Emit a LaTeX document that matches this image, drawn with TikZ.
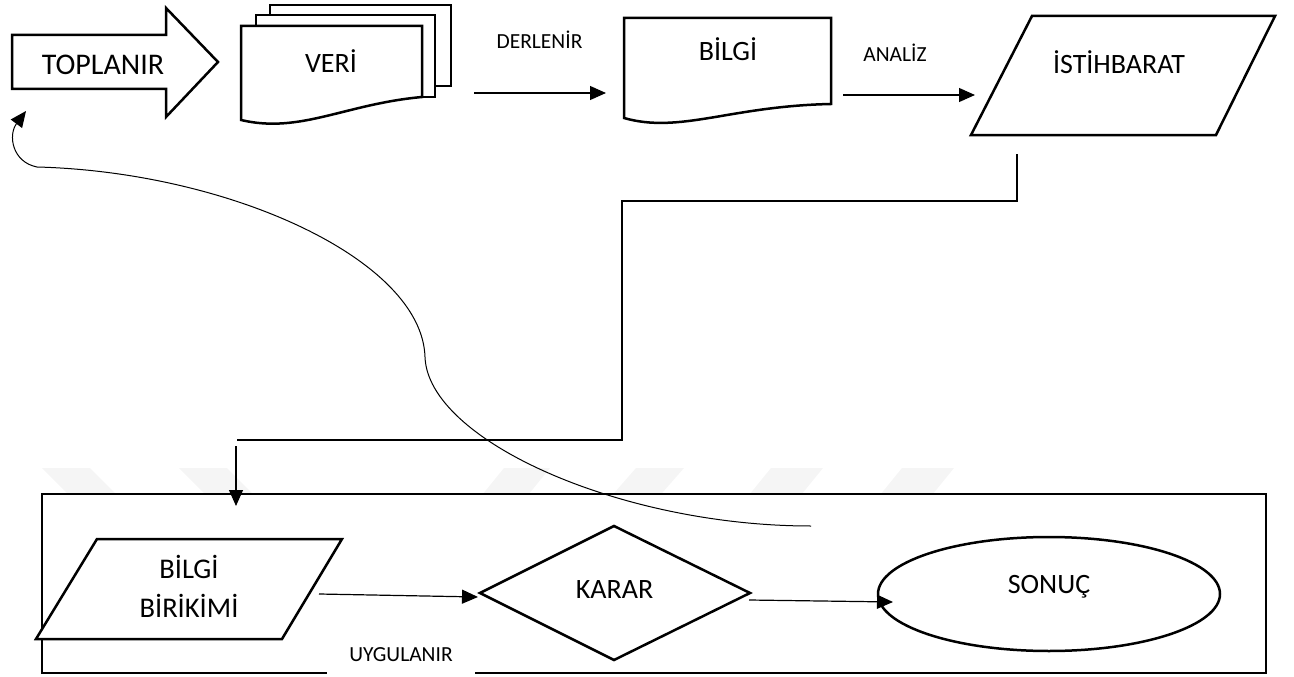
\documentclass[tikz,border=0pt]{standalone}
\usepackage{fontspec}
\setmainfont{Carlito}
\usetikzlibrary{arrows.meta}
\begin{document}
\begin{tikzpicture}[x=1pt,y=-1pt,
  shapeline/.style={draw=black,line width=2.5pt,line join=miter,fill=white},
  conn/.style={draw=black,line width=1.2pt},
  arrowconn/.style={conn,-{Triangle[length=16pt,width=14pt]}},
  biglabel/.style={inner sep=0pt,anchor=base,font=\fontsize{28}{34}\selectfont},
  smalllabel/.style={inner sep=0pt,anchor=base,font=\fontsize{21.5}{26}\selectfont},
  wmark/.style={fill=black!4}]
\useasboundingbox (0,0) rectangle (1294,677);

% faint background chevrons behind the lower frame
\fill[wmark] (42,468) -- (90,468) -- (122,500) -- (74,500) -- cycle;
\fill[wmark] (179,468) -- (227,468) -- (259,500) -- (211,500) -- cycle;
\fill[wmark] (504,468) -- (550,468) -- (524,500) -- (478,500) -- cycle;
\fill[wmark] (636,468) -- (684,468) -- (656,500) -- (608,500) -- cycle;
\fill[wmark] (771,468) -- (823,468) -- (797,500) -- (745,500) -- cycle;
\fill[wmark] (902,468) -- (954,468) -- (928,500) -- (876,500) -- cycle;

% lower frame
\draw[shapeline] (42,494) rectangle (1266,673);

% TOPLANIR block arrow
\draw[shapeline] (12,35) -- (166,35) -- (166,8) -- (218,62) -- (166,117) -- (166,89) -- (12,89) -- cycle;
\node[biglabel,font=\fontsize{30}{36}\selectfont] (toplanir) at (103,75) {TOPLANIR};

% VERİ stacked documents
\draw[shapeline] (270,5) rectangle (451,86);
\draw[shapeline] (256,15) rectangle (435,97);
\draw[shapeline] (241,26) -- (422,26) -- (422,97) .. controls (345,104) and (300,134) .. (241,120) -- cycle;
\node[biglabel] (veri) at (331,73) {VERİ};

% BİLGİ document
\draw[shapeline] (624,18) -- (831,18) -- (831,104) .. controls (730,106) and (680,134) .. (624,118) -- cycle;
\node[biglabel] (bilgi) at (728,61) {BİLGİ};

% İSTİHBARAT data parallelogram
\draw[shapeline] (1032,16) -- (1275,16) -- (1216,135) -- (971,135) -- cycle;
\node[biglabel] (istihbarat) at (1119,74) {İSTİHBARAT};

% BİLGİ BİRİKİMİ data parallelogram
\draw[shapeline] (97,539) -- (342,539) -- (282,639) -- (36,639) -- cycle;
\node[biglabel,align=center,font=\fontsize{28.5}{39}\selectfont] (birikim) at (189,617) {BİLGİ\\BİRİKİMİ};

% KARAR decision
\draw[shapeline] (480,593) -- (614,526) -- (750,593) -- (614,660) -- cycle;
\node[biglabel] (karar) at (614.5,598) {KARAR};

% SONUÇ terminal
\draw[shapeline] (1049,594) ellipse [x radius=171, y radius=57];
\node[biglabel] (sonuc) at (1049,593) {SONUÇ};

% connector end points
\coordinate (derA) at (474,93);
\coordinate (derB) at (606,93);
\coordinate (anaA) at (843,95);
\coordinate (anaB) at (975,95);
\coordinate (istout) at (1017,154);
\coordinate (turnA) at (622,201);
\coordinate (turnB) at (237,440);
\coordinate (dropA) at (236,446);
\coordinate (dropB) at (236,506);
\coordinate (uygA) at (319,594);
\coordinate (uygB) at (478,597);
\coordinate (sonA) at (749,600);
\coordinate (sonB) at (893,602);
\coordinate (fbstart) at (811,526);
\coordinate (fbmid) at (425,357);
\coordinate (fbbend) at (37,167);
\coordinate (fbend) at (26,111);

% flow connectors
\draw[arrowconn] (derA) -- (derB);
\node[smalllabel] (derlenir) at (539.5,49) {DERLENİR};
\draw[arrowconn] (anaA) -- (anaB);
\node[smalllabel] (analiz) at (895,62) {ANALİZ};
\draw[conn] (istout) |- (turnA) |- (turnB);
\draw[arrowconn] (dropA) -- (dropB);
\draw[arrowconn] (uygA) -- (uygB);
\draw[arrowconn] (sonA) -- (sonB);

% feedback curve back to TOPLANIR
\draw[arrowconn,line width=1pt] (fbstart) .. controls (620,526) and (428,440) .. (fbmid)
  .. controls (422,260) and (230,172) .. (fbbend)
  .. controls (12,162) and (8,135) .. (fbend);

% UYGULANIR label sitting on the frame
\node[smalllabel,fill=white,inner xsep=22pt,inner ysep=15pt] (uygulanir) at (401,661) {UYGULANIR};
\end{tikzpicture}
\end{document}
